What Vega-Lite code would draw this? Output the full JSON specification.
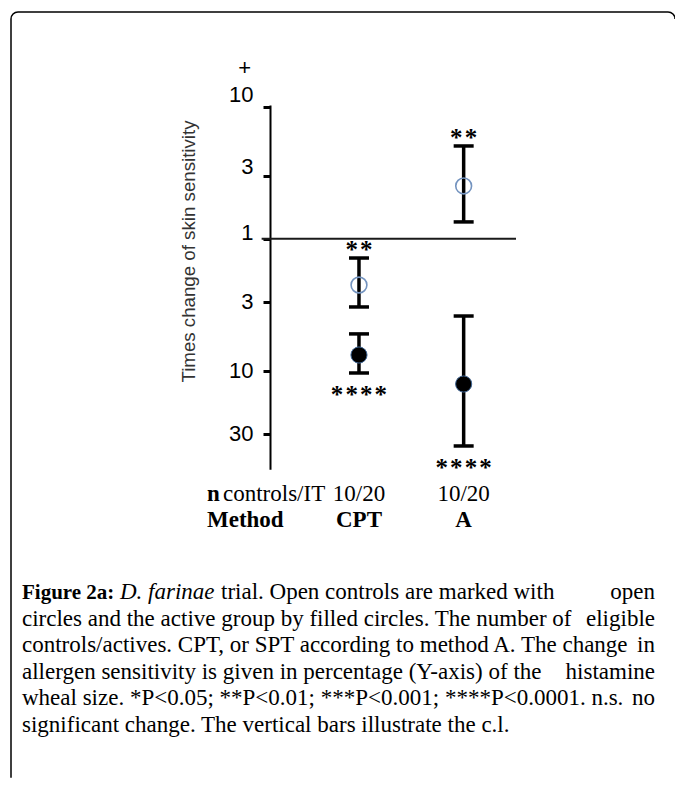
{
  "$schema": "https://vega.github.io/schema/vega-lite/v6.json",
  "width": 664,
  "height": 773,
  "autosize": "none",
  "padding": {"left": 11, "top": 12, "right": 0, "bottom": 0},
  "background": "white",
  "config": {
    "view": {"stroke": "black", "strokeWidth": 1.5, "cornerRadius": 7, "strokeDash": [661, 1431, 781, 100]},
    "text": {"color": "black"}
  },
  "datasets": {
    "estimates": [
      {"method": "CPT", "pos": 1, "group": "control", "change": 0.446, "lower": 0.304, "upper": 0.714, "stars": "*\u200a*", "side": "above"},
      {"method": "CPT", "pos": 1, "group": "active", "change": 0.1315, "lower": 0.0961, "upper": 0.19, "stars": "*\u200a*\u200a*\u200a*", "side": "below"},
      {"method": "A", "pos": 2, "group": "control", "change": 2.51, "lower": 1.34, "upper": 5.04, "stars": "*\u200a*", "side": "above"},
      {"method": "A", "pos": 2, "group": "active", "change": 0.0793, "lower": 0.0269, "upper": 0.2596, "stars": "*\u200a*\u200a*\u200a*", "side": "below"}
    ],
    "columns": [
      {"pos": 1, "method": "CPT", "n": "10/20"},
      {"pos": 2, "method": "A", "n": "10/20"}
    ],
    "headers": [
      {"row": 1, "bold": "n", "rest": "controls/IT"},
      {"row": 2, "bold": "Method", "rest": ""}
    ],
    "caption": [
      {"line": 1, "label": "Figure 2a:", "species": "D. farinae", "left": "trial. Open controls are marked with", "right": "open"},
      {"line": 2, "label": "", "species": "", "left": "circles and the active group by filled circles. The number of", "right": "eligible"},
      {"line": 3, "label": "", "species": "", "left": "controls/actives. CPT, or SPT according to method A. The change", "right": "in"},
      {"line": 4, "label": "", "species": "", "left": "allergen sensitivity is given in percentage (Y-axis) of the", "right": "histamine"},
      {"line": 5, "label": "", "species": "", "left": "wheal size. *P<0.05; **P<0.01; ***P<0.001; ****P<0.0001. n.s.", "right": "no"},
      {"line": 6, "label": "", "species": "", "left": "significant change. The vertical bars illustrate the c.l.", "right": ""}
    ]
  },
  "layer": [
    {
      "layer": [
        {
          "data": {"name": "estimates"},
          "layer": [
            {
              "mark": {"type": "rule", "color": "black", "strokeWidth": 3.5},
              "encoding": {
                "x": {"field": "pos", "type": "quantitative", "scale": {"domain": [0.15, 2.5], "range": [259, 505]}, "axis": null},
                "y": {
                  "field": "lower", "type": "quantitative",
                  "scale": {"type": "log", "domain": [0.01791, 10.3], "range": [457.3, 93], "nice": false},
                  "axis": {
                    "orient": "left",
                    "offset": -259,
                    "values": [10, 3, 1, 0.3333333, 0.1, 0.03333333],
                    "labelExpr": "datum.value >= 1 ? format(datum.value, 'd') : format(round(1 / datum.value), 'd')",
                    "title": "Times change of skin sensitivity",
                    "titleFont": "Liberation Sans",
                    "titleFontSize": 18.7,
                    "titleFontWeight": "normal",
                    "titleColor": "#333333",
                    "titleAngle": -90,
                    "titleX": -82,
                    "titleY": 239,
                    "titleAlign": "center",
                    "titleBaseline": "middle",
                    "labelFont": "Liberation Sans",
                    "labelFontSize": 22,
                    "labelColor": "black",
                    "labelPadding": 10,
                    "labelOffset": {"condition": [{"test": "datum.value > 5", "value": -12}, {"test": "datum.value > 2", "value": -9}, {"test": "datum.value > 0.9", "value": -6}], "value": 0},
                    "labelOverlap": false,
                    "labelFlush": false,
                    "domainColor": "black",
                    "domainWidth": 2,
                    "tickColor": "black",
                    "tickSize": 7,
                    "tickWidth": 3,
                    "grid": false
                  }
                },
                "y2": {"field": "upper"}
              }
            },
            {
              "data": {"values": [{"reference": 1}]},
              "mark": {"type": "rule", "color": "#1a1a1a", "strokeWidth": 2},
              "encoding": {
                "x": {"datum": 0.07, "type": "quantitative", "scale": {"domain": [0.15, 2.5], "range": [259, 505]}, "axis": null},
                "x2": {"datum": 2.5},
                "y": {"field": "reference", "type": "quantitative", "scale": {"type": "log", "domain": [0.01791, 10.3], "range": [457.3, 93], "nice": false}}
              }
            },
            {
              "mark": {"type": "tick", "orient": "horizontal", "color": "black", "size": 20, "thickness": 3.5, "opacity": 1},
              "encoding": {
                "x": {"field": "pos", "type": "quantitative", "scale": {"domain": [0.15, 2.5], "range": [259, 505]}, "axis": null},
                "y": {"field": "upper", "type": "quantitative", "scale": {"type": "log", "domain": [0.01791, 10.3], "range": [457.3, 93], "nice": false}}
              }
            },
            {
              "mark": {"type": "tick", "orient": "horizontal", "color": "black", "size": 20, "thickness": 3.5, "opacity": 1},
              "encoding": {
                "x": {"field": "pos", "type": "quantitative", "scale": {"domain": [0.15, 2.5], "range": [259, 505]}, "axis": null},
                "y": {"field": "lower", "type": "quantitative", "scale": {"type": "log", "domain": [0.01791, 10.3], "range": [457.3, 93], "nice": false}}
              }
            },
            {
              "transform": [{"filter": "datum.group == 'control'"}],
              "mark": {"type": "point", "shape": "circle", "filled": false, "stroke": "#7393bf", "strokeWidth": 1.6, "size": 250, "opacity": 1},
              "encoding": {
                "x": {"field": "pos", "type": "quantitative", "scale": {"domain": [0.15, 2.5], "range": [259, 505]}, "axis": null},
                "y": {"field": "change", "type": "quantitative", "scale": {"type": "log", "domain": [0.01791, 10.3], "range": [457.3, 93], "nice": false}}
              }
            },
            {
              "transform": [{"filter": "datum.group == 'active'"}],
              "mark": {"type": "point", "shape": "circle", "filled": true, "fill": "black", "stroke": "#3f6594", "strokeWidth": 1, "size": 260, "opacity": 1},
              "encoding": {
                "x": {"field": "pos", "type": "quantitative", "scale": {"domain": [0.15, 2.5], "range": [259, 505]}, "axis": null},
                "y": {"field": "change", "type": "quantitative", "scale": {"type": "log", "domain": [0.01791, 10.3], "range": [457.3, 93], "nice": false}}
              }
            },
            {
              "transform": [{"filter": "datum.side == 'above'"}],
              "mark": {"type": "text", "font": "Liberation Serif", "fontSize": 25, "fontWeight": "bold", "align": "center", "baseline": "alphabetic", "dy": 0},
              "encoding": {
                "x": {"field": "pos", "type": "quantitative", "scale": {"domain": [0.15, 2.5], "range": [259, 505]}, "axis": null},
                "y": {"field": "upper", "type": "quantitative", "scale": {"type": "log", "domain": [0.01791, 10.3], "range": [457.3, 93], "nice": false}},
                "text": {"field": "stars"}
              }
            },
            {
              "transform": [{"filter": "datum.side == 'below'"}],
              "mark": {"type": "text", "font": "Liberation Serif", "fontSize": 25, "fontWeight": "bold", "align": "center", "baseline": "alphabetic", "dy": 30},
              "encoding": {
                "x": {"field": "pos", "type": "quantitative", "scale": {"domain": [0.15, 2.5], "range": [259, 505]}, "axis": null},
                "y": {"field": "lower", "type": "quantitative", "scale": {"type": "log", "domain": [0.01791, 10.3], "range": [457.3, 93], "nice": false}},
                "text": {"field": "stars"}
              }
            },
            {
              "data": {"values": [{"direction": "+"}]},
              "mark": {"type": "text", "font": "Liberation Sans", "fontSize": 22, "align": "right", "baseline": "middle"},
              "encoding": {
                "x": {"datum": -0.03, "type": "quantitative", "scale": {"domain": [0.15, 2.5], "range": [259, 505]}, "axis": null},
                "y": {"datum": 19.6, "type": "quantitative", "scale": {"type": "log", "domain": [0.01791, 10.3], "range": [457.3, 93], "nice": false}},
                "text": {"field": "direction"}
              }
            }
          ]
        },
        {
          "layer": [
            {
              "data": {"name": "columns"},
              "mark": {"type": "text", "font": "Liberation Serif", "fontSize": 23, "align": "center", "baseline": "alphabetic"},
              "encoding": {
                "x": {"field": "pos", "type": "quantitative", "scale": {"domain": [0.15, 2.5], "range": [259, 505]}, "axis": null},
                "y": {"datum": 1, "type": "quantitative", "scale": {"domain": [1, 2], "range": [489, 515]}, "axis": null},
                "text": {"field": "n"}
              }
            },
            {
              "data": {"name": "columns"},
              "mark": {"type": "text", "font": "Liberation Serif", "fontSize": 23, "fontWeight": "bold", "align": "center", "baseline": "alphabetic"},
              "encoding": {
                "x": {"field": "pos", "type": "quantitative", "scale": {"domain": [0.15, 2.5], "range": [259, 505]}, "axis": null},
                "y": {"datum": 2, "type": "quantitative", "scale": {"domain": [1, 2], "range": [489, 515]}, "axis": null},
                "text": {"field": "method"}
              }
            },
            {
              "data": {"name": "headers"},
              "mark": {"type": "text", "font": "Liberation Serif", "fontSize": 23, "fontWeight": "bold", "align": "left", "baseline": "alphabetic"},
              "encoding": {
                "x": {"datum": -0.452, "type": "quantitative", "scale": {"domain": [0.15, 2.5], "range": [259, 505]}, "axis": null},
                "y": {"field": "row", "type": "quantitative", "scale": {"domain": [1, 2], "range": [489, 515]}, "axis": null},
                "text": {"field": "bold"}
              }
            },
            {
              "data": {"name": "headers"},
              "mark": {"type": "text", "font": "Liberation Serif", "fontSize": 23, "align": "left", "baseline": "alphabetic", "dx": 16},
              "encoding": {
                "x": {"datum": -0.452, "type": "quantitative", "scale": {"domain": [0.15, 2.5], "range": [259, 505]}, "axis": null},
                "y": {"field": "row", "type": "quantitative", "scale": {"domain": [1, 2], "range": [489, 515]}, "axis": null},
                "text": {"field": "rest"}
              }
            }
          ]
        }
      ],
      "resolve": {"scale": {"y": "independent"}}
    },
    {
      "data": {"name": "caption"},
      "layer": [
        {
          "transform": [{"filter": "datum.line == 1"}],
          "mark": {"type": "text", "font": "Liberation Serif", "fontSize": 21, "fontWeight": "bold", "align": "left", "baseline": "alphabetic"},
          "encoding": {
            "x": {"datum": 0, "type": "quantitative", "scale": {"domain": [0, 1], "range": [11, 644]}, "axis": null},
            "y": {"field": "line", "type": "quantitative", "scale": {"domain": [1, 6], "range": [587, 720]}, "axis": null},
            "text": {"field": "label"}
          }
        },
        {
          "transform": [{"filter": "datum.line == 1"}],
          "mark": {"type": "text", "font": "Liberation Serif", "fontSize": 23, "fontStyle": "italic", "align": "left", "baseline": "alphabetic", "dx": 98},
          "encoding": {
            "x": {"datum": 0, "type": "quantitative", "scale": {"domain": [0, 1], "range": [11, 644]}, "axis": null},
            "y": {"field": "line", "type": "quantitative", "scale": {"domain": [1, 6], "range": [587, 720]}, "axis": null},
            "text": {"field": "species"}
          }
        },
        {
          "transform": [{"filter": "datum.line == 1"}],
          "mark": {"type": "text", "font": "Liberation Serif", "fontSize": 23, "align": "left", "baseline": "alphabetic", "dx": 199},
          "encoding": {
            "x": {"datum": 0, "type": "quantitative", "scale": {"domain": [0, 1], "range": [11, 644]}, "axis": null},
            "y": {"field": "line", "type": "quantitative", "scale": {"domain": [1, 6], "range": [587, 720]}, "axis": null},
            "text": {"field": "left"}
          }
        },
        {
          "transform": [{"filter": "datum.line > 1"}],
          "mark": {"type": "text", "font": "Liberation Serif", "fontSize": 23, "align": "left", "baseline": "alphabetic"},
          "encoding": {
            "x": {"datum": 0, "type": "quantitative", "scale": {"domain": [0, 1], "range": [11, 644]}, "axis": null},
            "y": {"field": "line", "type": "quantitative", "scale": {"domain": [1, 6], "range": [587, 720]}, "axis": null},
            "text": {"field": "left"}
          }
        },
        {
          "mark": {"type": "text", "font": "Liberation Serif", "fontSize": 23, "align": "right", "baseline": "alphabetic"},
          "encoding": {
            "x": {"datum": 1, "type": "quantitative", "scale": {"domain": [0, 1], "range": [11, 644]}, "axis": null},
            "y": {"field": "line", "type": "quantitative", "scale": {"domain": [1, 6], "range": [587, 720]}, "axis": null},
            "text": {"field": "right"}
          }
        }
      ]
    }
  ],
  "resolve": {"scale": {"x": "independent", "y": "independent"}}
}
